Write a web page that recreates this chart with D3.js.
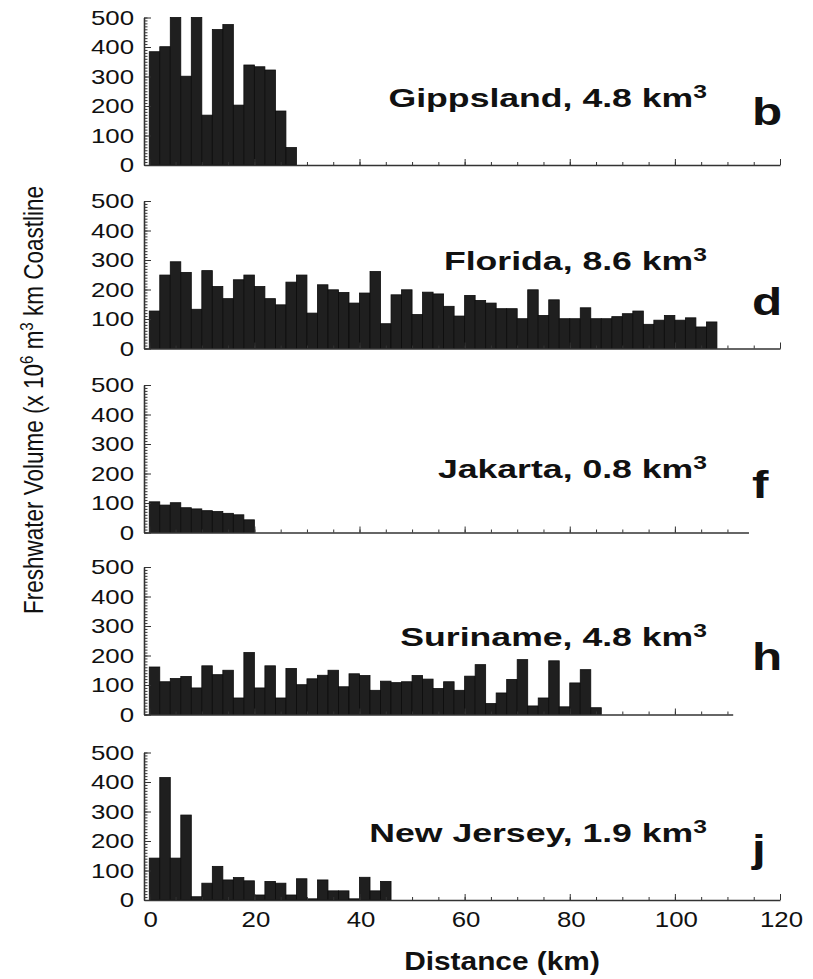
<!DOCTYPE html>
<html>
<head>
<meta charset="utf-8">
<script src="https://cdn.jsdelivr.net/npm/d3@7"></script>
<style>
  body { margin: 0; background: #fff; }
  text { font-family: "Liberation Sans", Arial, sans-serif; fill: #111; }
</style>
</head>
<body>
<div id="chart"></div>
<script>
// freshwater volume per 2 km distance bin (x 10^6 m^3 / km coastline)
const binWidth = 2;
const gippsland = [384, 401, 500, 301, 500, 169, 459, 476, 203, 339, 333, 322, 183, 59];
const florida = [127, 249, 294, 258, 133, 264, 210, 169, 233, 249, 210, 169, 148, 225, 249, 120, 216, 199,
                 190, 154, 188, 261, 84, 182, 199, 115, 191, 185, 143, 110, 180, 163, 154, 135, 135, 101,
                 199, 112, 165, 101, 101, 138, 101, 101, 108, 118, 127, 82, 96, 112, 96, 104, 73, 90];
const jakarta = [104, 93, 101, 84, 80, 74, 71, 65, 60, 43];
const suriname = [161, 111, 122, 129, 90, 165, 135, 150, 56, 210, 90, 165, 56, 156, 101, 121, 133, 150,
                  94, 138, 132, 82, 113, 108, 111, 132, 120, 88, 111, 82, 130, 169, 37, 73, 119, 186,
                  29, 56, 182, 26, 107, 152, 23];
const newJersey = [142, 415, 142, 288, 11, 57, 114, 68, 76, 65, 17, 63, 57, 17, 72, 4, 68, 31, 31, 4, 77, 31, 63];

const regions = ["Gippsland", "Florida", "Jakarta", "Suriname", "New Jersey"];
const volumes = ["4.8", "8.6", "0.8", "4.8", "1.9"];
const panelLetters = ["b", "d", "f", "h", "j"];
const series = [gippsland, florida, jakarta, suriname, newJersey];
const axisEnds = [120, 120, 114, 111, 120];

const yTicks = [0, 100, 200, 300, 400, 500];
const yMinor = d3.range(0, 501, 10);
const xTicks = [0, 20, 40, 60, 80, 100, 120];
const xMinor = d3.range(0, 121, 5);

// layout
const width = 813, height = 979;
const panelBase = [165, 348.5, 532.5, 714.5, 900];
const panelH = 147.5;
const labelDy = [-58.3, -78.3, -55, -69, -58.3];
const letterDy = [-40, -33.3, -35, -44.3, -38];

const svg = d3.select("#chart").append("svg")
  .attr("width", width)
  .attr("height", height);

const x = d3.scaleLinear().domain([-1, 120]).range([144, 780]);

function stretched(sel, tx, ty, sx) {
  return sel.attr("transform", `translate(${tx},${ty}) scale(${sx},1)`);
}

series.forEach((vals, i) => {
  const base = panelBase[i];
  const y = d3.scaleLinear().domain([0, 500]).range([base, base - panelH]);
  const g = svg.append("g");

  // bars
  g.selectAll("rect")
    .data(vals)
    .enter()
    .append("rect")
    .attr("x", (d, k) => x(k * binWidth))
    .attr("y", d => y(d))
    .attr("width", x(binWidth) - x(0))
    .attr("height", d => y(0) - y(d))
    .attr("fill", "#1f1f1f")
    .attr("stroke", "#0c0c0c")
    .attr("stroke-width", 0.8);

  // y axis: minor then major ticks pointing inward
  const yAx = g.append("g").attr("transform", `translate(${x(-1)},0)`);
  yAx.append("g")
    .call(d3.axisLeft(y).tickValues(yMinor).tickSize(-3.5).tickSizeOuter(0).tickFormat(""))
    .call(a => a.select(".domain").remove());
  yAx.append("g")
    .call(d3.axisLeft(y).tickValues(yTicks).tickSize(-7).tickSizeOuter(0).tickFormat(""));
  yAx.selectAll("line").attr("stroke", "#333");
  yAx.selectAll(".domain").attr("stroke", "#333").attr("stroke-width", 1.6);

  g.selectAll(".ylab")
    .data(yTicks)
    .enter()
    .append("text")
    .attr("class", "ylab")
    .attr("text-anchor", "end")
    .attr("dy", "0.35em")
    .attr("font-size", 21)
    .each(function(d) { stretched(d3.select(this), 134, y(d), 1.23); })
    .text(d => d);

  // x axis, ticks pointing up
  const end = axisEnds[i];
  const xs = d3.scaleLinear().domain([-1, end]).range([x(-1), x(end)]);
  const xAx = g.append("g").attr("transform", `translate(0,${base})`);
  xAx.append("g")
    .call(d3.axisBottom(xs).tickValues(xMinor.filter(v => v <= end)).tickSize(-3).tickSizeOuter(0).tickFormat(""))
    .call(a => a.select(".domain").remove());
  xAx.append("g")
    .call(d3.axisBottom(xs).tickValues(xTicks.filter(v => v <= end)).tickSize(-6).tickSizeOuter(0).tickFormat(""));
  xAx.selectAll("line").attr("stroke", "#333");
  xAx.selectAll(".domain").attr("stroke", "#333").attr("stroke-width", 1.6);

  // region label
  const lab = g.append("text")
    .attr("text-anchor", "end")
    .attr("font-weight", "bold")
    .attr("font-size", 26);
  stretched(lab, 707, base + labelDy[i], 1.37);
  lab.append("tspan").text(`${regions[i]}, ${volumes[i]} km`);
  lab.append("tspan").attr("font-size", 18).attr("dy", -9).text("3");

  const let_ = g.append("text")
    .attr("font-weight", "bold")
    .attr("font-size", 38)
    .text(panelLetters[i]);
  stretched(let_, 752, base + letterDy[i], 1.3);

  if (i === series.length - 1) {
    g.selectAll(".xlab")
      .data(xTicks)
      .enter()
      .append("text")
      .attr("class", "xlab")
      .attr("text-anchor", "middle")
      .attr("font-size", 21.5)
      .each(function(d) { stretched(d3.select(this), x(d) + 1.5, 927, 1.2); })
      .text(d => d);
  }
});

// axis titles
const xt = svg.append("text")
  .attr("text-anchor", "middle")
  .attr("font-weight", "bold")
  .attr("font-size", 25.5)
  .text("Distance (km)");
stretched(xt, 502, 970, 1.17);

const yt = svg.append("text")
  .attr("text-anchor", "middle")
  .attr("font-size", 22.5)
  .attr("transform", "translate(43,400) scale(1.2,1) rotate(-90)");
yt.append("tspan").text("Freshwater Volume (x 10");
yt.append("tspan").attr("font-size", 15).attr("dy", -8).text("6");
yt.append("tspan").attr("dy", 8).text(" m");
yt.append("tspan").attr("font-size", 15).attr("dy", -8).text("3");
yt.append("tspan").attr("dy", 8).text(" km Coastline");
</script>
</body>
</html>
